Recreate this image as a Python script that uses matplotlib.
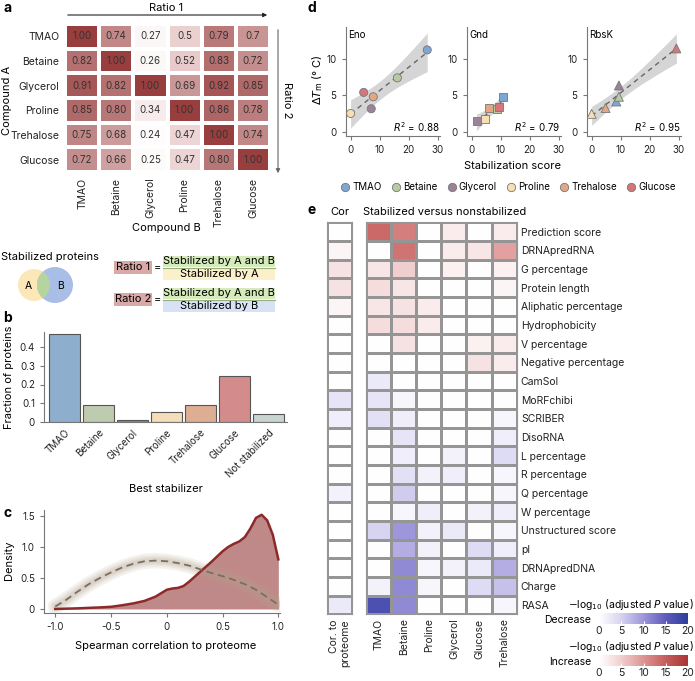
import numpy as np
import matplotlib.pyplot as plt
from matplotlib.colors import LinearSegmentedColormap
from matplotlib.patches import Circle, Rectangle
from matplotlib.lines import Line2D

W, H = 695, 681

# ---- a: overlap ratios between compounds (row = compound A, col = compound B)
compounds = ['TMAO', 'Betaine', 'Glycerol', 'Proline', 'Trehalose', 'Glucose']
ratio_values = [
    [1.00, 0.74, 0.27, 0.50, 0.79, 0.70],
    [0.82, 1.00, 0.26, 0.52, 0.83, 0.72],
    [0.91, 0.82, 1.00, 0.69, 0.92, 0.85],
    [0.85, 0.80, 0.34, 1.00, 0.86, 0.78],
    [0.75, 0.68, 0.24, 0.47, 1.00, 0.74],
    [0.72, 0.66, 0.25, 0.47, 0.80, 1.00],
]
ratio_labels = [
    ['1.00', '0.74', '0.27', '0.5', '0.79', '0.7'],
    ['0.82', '1.00', '0.26', '0.52', '0.83', '0.72'],
    ['0.91', '0.82', '1.00', '0.69', '0.92', '0.85'],
    ['0.85', '0.80', '0.34', '1.00', '0.86', '0.78'],
    ['0.75', '0.68', '0.24', '0.47', '1.00', '0.74'],
    ['0.72', '0.66', '0.25', '0.47', '0.80', '1.00'],
]

# ---- b: best stabilizer
best_stabilizer = ['TMAO', 'Betaine', 'Glycerol', 'Proline', 'Trehalose', 'Glucose', 'Not stabilized']
fraction_proteins = [0.47, 0.091, 0.012, 0.055, 0.093, 0.243, 0.042]
bar_colors = ['#8DAFCD', '#BFCBAF', '#9F7F8F', '#F4DDB8', '#DDAD94', '#D48B8B', '#C9D4D2']

# ---- c: density of spearman correlation
obs_x = [-1.0, -0.8, -0.6, -0.5, -0.4, -0.3, -0.2, -0.1, 0.0, 0.05, 0.1, 0.15, 0.2, 0.3,
         0.4, 0.5, 0.55, 0.6, 0.65, 0.7, 0.75, 0.8, 0.85, 0.9, 0.95, 1.0]
obs_density = [0.0, 0.01, 0.025, 0.035, 0.06, 0.09, 0.13, 0.2, 0.31, 0.33, 0.34, 0.37, 0.44, 0.6,
               0.76, 0.93, 1.0, 1.05, 1.09, 1.16, 1.3, 1.47, 1.52, 1.43, 1.2, 0.8]
null_x = [-1.0, -0.9, -0.8, -0.7, -0.6, -0.5, -0.4, -0.3, -0.2, -0.1, 0.0,
          0.1, 0.2, 0.3, 0.4, 0.5, 0.6, 0.7, 0.8, 0.9, 1.0]
null_density = [0.04, 0.15, 0.28, 0.40, 0.50, 0.59, 0.67, 0.73, 0.77, 0.78, 0.77,
                0.74, 0.70, 0.64, 0.58, 0.53, 0.47, 0.40, 0.31, 0.19, 0.07]

# ---- d: stabilization score vs delta Tm
d_colors = ['#7EA6D4', '#B7CBA3', '#9C8299', '#F8DFB2', '#E3A685', '#D5767A']
eno_score = [26.4, 16.1, 7.1, 0.0, 7.8, 4.5]
eno_dtm = [11.25, 7.4, 3.15, 2.5, 4.8, 5.4]
gnd_score = [10.9, 8.6, 1.7, 4.5, 6.1, 9.3]
gnd_dtm = [4.8, 3.1, 1.45, 1.75, 3.25, 3.35]
rbsk_score = [8.5, 9.4, 9.4, 0.0, 4.8, 29.2]
rbsk_dtm = [4.15, 4.8, 6.35, 2.45, 3.25, 11.45]
r2_labels = ['0.88', '0.79', '0.95']

# ---- e: signed -log10(adj P); positive = increase, negative = decrease
features = ['Prediction score', 'DRNApredRNA', 'G percentage', 'Protein length',
            'Aliphatic percentage', 'Hydrophobicity', 'V percentage', 'Negative percentage',
            'CamSol', 'MoRFchibi', 'SCRIBER', 'DisoRNA', 'L percentage', 'R percentage',
            'Q percentage', 'W percentage', 'Unstructured score', 'pI', 'DRNApredDNA',
            'Charge', 'RASA']
e_compounds = ['TMAO', 'Betaine', 'Proline', 'Glycerol', 'Glucose', 'Trehalose']
cor_to_proteome = [0, 1, 3, 3, 1, 0, 0, 0, 0, -3, -2, 0, 0, 0, -1.5, 0, 0, 0, 0, 0, -2.5]
signed_logp = [
    [14, 12, 0, 2, 0, 2],
    [0, 13, 0, 2, 2.5, 9],
    [2.5, 5, 0, 1.5, 0, 1.5],
    [3.5, 2.5, 0, 0, 0, 1],
    [2.5, 3, 2, 0, 0, 0],
    [3.5, 3.5, 2, 0, 0, 0],
    [0, 3, 0, 0, 1.5, 2],
    [0, 0, 0, 0, 3, 2],
    [-2.5, 0, 0, 0, 0, 0],
    [-3, -1, 0, 0, 0, 0],
    [-3.5, -2, 0, 0, 0, -1],
    [0, -3, 0, 0, 0, -2],
    [0, -2, 0, -1.5, 0, -4],
    [0, -3.5, -1.5, -2, 0, -1],
    [0, -5.5, 0, 0, 0, -1],
    [0, -1, -2, 0, -1.5, -2],
    [-5, -10, -1.5, -2.5, 0, -1],
    [0, -8, -1.5, 0, -4, -2],
    [0, -11, -1, -1.5, -2.5, -8],
    [-1.5, -11, -1, 0, -4, -6.5],
    [-17, -11, 0, 0, 0, -1],
]

plt.rcParams['font.family'] = ['Inter', 'DejaVu Sans']
plt.rcParams['font.size'] = 7
plt.rcParams['axes.edgecolor'] = '#777777'
plt.rcParams['xtick.color'] = '#777777'
plt.rcParams['ytick.color'] = '#777777'
plt.rcParams['xtick.labelcolor'] = '#222222'
plt.rcParams['ytick.labelcolor'] = '#222222'
plt.rcParams['xtick.major.size'] = 3
plt.rcParams['ytick.major.size'] = 3
plt.rcParams['axes.linewidth'] = 0.8

fig = plt.figure(figsize=(W / 100, H / 100), dpi=100)


def px_axes(x0, y0, x1, y1):
    return fig.add_axes([x0 / W, 1 - y1 / H, (x1 - x0) / W, (y1 - y0) / H])


# overlay in pixel coords for annotations
ov = fig.add_axes([0, 0, 1, 1])
ov.set_xlim(0, W)
ov.set_ylim(H, 0)
ov.axis('off')

def label(x, y, s, **kw):
    kw.setdefault('ha', 'center')
    kw.setdefault('va', 'center')
    ov.text(x, y, s, **kw)

for x, y, s in [(3, 8, 'a'), (3, 318, 'b'), (3, 513, 'c'), (308, 8, 'd'), (308, 210, 'e')]:
    label(x, y, s, ha='left', fontsize=10, fontweight='bold')

# ---------------- a
cmap_a = LinearSegmentedColormap.from_list(
    'a', [(0, '#FFFFFF'), (0.36, '#EBD0D0'), (0.68, '#C08585'), (1, '#983E3E')])
ax = px_axes(65, 24, 270, 172)
ax.pcolormesh(np.array(ratio_values), cmap=cmap_a, vmin=0.22, vmax=1.0,
              edgecolors='white', linewidth=1.5)
ax.set_xlim(0, 6)
ax.set_ylim(6, 0)
for i in range(6):
    for j in range(6):
        ax.text(j + 0.5, i + 0.5, ratio_labels[i][j], ha='center', va='center',
                fontsize=7, color='#333333')
ax.set_xticks(np.arange(6) + 0.5, compounds, rotation=90)
ax.set_yticks(np.arange(6) + 0.5, compounds)
ax.tick_params(length=0, pad=4, labelsize=7.5)
for s in ax.spines.values():
    s.set_visible(False)

ov.annotate('', xy=(270, 15), xytext=(65, 15),
            arrowprops=dict(arrowstyle='-|>', color='#222222', lw=0.8, mutation_scale=6))
label(166, 8, 'Ratio 1', fontsize=8)
ov.annotate('', xy=(278, 176), xytext=(278, 27),
            arrowprops=dict(arrowstyle='-|>', color='#666666', lw=0.8, mutation_scale=6))
label(287, 100, 'Ratio 2', fontsize=8, rotation=-90)
label(7, 100, 'Compound A', fontsize=8, rotation=90)
label(166, 228, 'Compound B', fontsize=8)

# venn
label(50, 257, 'Stabilized proteins', fontsize=8)
ca = Circle((34, 285), 16, facecolor='#FBE7B7', edgecolor='none')
cb = Circle((55, 285), 18, facecolor='#A9BEE6', edgecolor='none')
ov.add_patch(ca)
ov.add_patch(cb)
cab = Circle((34, 285), 16, facecolor='#B6D59E', edgecolor='none')
ov.add_patch(cab)
cab.set_clip_path(Circle((55, 285), 18, transform=ov.transData))
label(28, 286, 'A', fontsize=7.5)
label(61, 286, 'B', fontsize=7.5)

# ratio formulas
for yc, name, den, dcol in [(267.5, 'Ratio 1', 'Stabilized by A', '#FBF0C9'),
                            (299.5, 'Ratio 2', 'Stabilized by B', '#D8E2F5')]:
    ov.add_patch(Rectangle((114, yc - 6.5), 38, 13, facecolor='#D9A9A7', edgecolor='none'))
    label(133, yc, name, fontsize=8)
    label(157, yc, '=', fontsize=8)
    ov.add_patch(Rectangle((163, yc - 12), 112, 11.5, facecolor='#D6EBBB', edgecolor='none'))
    ov.add_patch(Rectangle((163, yc + 0.5), 112, 12, facecolor=dcol, edgecolor='none'))
    ov.plot([163, 275], [yc, yc], color='#9AAE84', lw=0.8)
    label(219, yc - 6, 'Stabilized by A and B', fontsize=8)
    label(219, yc + 6.5, den, fontsize=8)

# ---------------- b
ax = px_axes(44, 332, 287, 422)
ax.bar(range(len(best_stabilizer)), fraction_proteins, width=0.9, color=bar_colors,
       edgecolor='#555555', linewidth=0.8)
ax.set_xlim(-0.6, 6.55)
ax.set_ylim(0, 0.48)
ax.set_yticks([0, 0.1, 0.2, 0.3, 0.4], ['0', '0.1', '0.2', '0.3', '0.4'])
ax.set_xticks(range(len(best_stabilizer)))
ax.set_xticklabels(best_stabilizer, rotation=45, ha='right', rotation_mode='anchor')
ax.tick_params(axis='x', length=0, pad=4)
ax.spines[['top', 'right']].set_visible(False)
label(9, 377, 'Fraction of proteins', fontsize=8, rotation=90)
label(166, 489, 'Best stabilizer', fontsize=8)

# ---------------- c
ax = px_axes(44, 510, 280, 613)
ax.set_xlim(-1.101, 1.015)
ax.set_ylim(-0.065, 1.597)
for lw in [11, 8, 5.5, 3.5]:
    ax.plot(null_x, null_density, color='#B3A38C', lw=lw, alpha=0.14,
            solid_capstyle='round')
ax.fill_between(obs_x, obs_density, color='#9E4A4A', alpha=0.65, linewidth=0)
ax.plot(obs_x, obs_density, color='#8C2A2A', lw=1.8)
ax.plot(null_x, null_density, color='#7A6E60', lw=1.3, dashes=(4, 2.5))
ax.set_xticks([-1, -0.5, 0, 0.5, 1], ['-1.0', '-0.5', '0', '0.5', '1.0'])
ax.set_yticks([0, 0.5, 1.0, 1.5], ['0', '0.5', '1.0', '1.5'])
ax.spines[['top', 'right']].set_visible(False)
label(9, 560, 'Density', fontsize=8, rotation=90)
label(166, 646, 'Spearman correlation to proteome', fontsize=8)

# ---------------- d
def reg_band(x, y, grid):
    x = np.asarray(x)
    y = np.asarray(y)
    slope, icpt = np.polyfit(x, y, 1)
    n = len(x)
    resid = y - (slope * x + icpt)
    s = np.sqrt(np.sum(resid ** 2) / (n - 2))
    se = s * np.sqrt(1 / n + (grid - x.mean()) ** 2 / np.sum((x - x.mean()) ** 2))
    fit = slope * grid + icpt
    return fit, fit - 2.776 * se, fit + 2.776 * se


panels = [('Eno', eno_score, eno_dtm, 'o', 345.7),
          ('Gnd', gnd_score, gnd_dtm, 's', 466.7),
          ('RbsK', rbsk_score, rbsk_dtm, '^', 586.7)]
for k, (name, xs, ys, mk, x0) in enumerate(panels):
    ax = px_axes(x0, 27, x0 + 94.3, 136)
    ax.set_xlim(-1.7, 30.8)
    ax.set_ylim(-0.6, 14.4)
    grid = np.linspace(min(xs), max(xs), 60)
    fit, lo, hi = reg_band(xs, ys, grid)
    ax.fill_between(grid, lo, hi, color='#D5D5D5', linewidth=0, zorder=1)
    ax.plot(grid, fit, color='#666666', lw=1, dashes=(3.5, 3), zorder=2)
    ax.scatter(xs, ys, marker=mk, s=34 if mk != '^' else 42, c=d_colors,
               edgecolors='#777777', linewidths=0.6, zorder=3)
    ax.set_xticks([0, 10, 20, 30])
    ax.set_yticks([0, 5, 10])
    ax.spines[['top', 'right']].set_visible(False)
    ax.text(0.03, 0.97, name, transform=ax.transAxes, ha='left', va='top', fontsize=7)
    ax.text(0.99, 0.02, r'$R^2$ = ' + r2_labels[k], transform=ax.transAxes,
            ha='right', va='bottom', fontsize=7)

label(318, 80, r'$\Delta\mathit{T}_\mathrm{m}$ (° C)', fontsize=8, rotation=90)
label(513, 166, 'Stabilization score', fontsize=8)
handles = [Line2D([], [], marker='o', ls='none', markersize=6, markerfacecolor=c,
                  markeredgecolor='#777777', markeredgewidth=0.6) for c in d_colors]
fig.legend(handles, compounds, loc='center', bbox_to_anchor=(508 / W, 1 - 187 / H),
           ncol=6, frameon=False, handletextpad=0.2, columnspacing=1.0,
           handlelength=1.0, fontsize=7)

# ---------------- e
div_cmap = LinearSegmentedColormap.from_list('div', [
    (0, '#2F3E9E'), (0.125, '#5F5CBD'), (0.25, '#9D96DA'), (0.375, '#D6D3F1'),
    (0.5, '#FFFFFF'),
    (0.625, '#F1CFCF'), (0.75, '#DE9494'), (0.875, '#C65E5E'), (1, '#AC3434')])
nrow = len(features)
top, bottom = 222.3, 614.3

ax = px_axes(327.3, top, 352.3, bottom)
ax.pcolormesh(np.array(cor_to_proteome)[:, None], cmap=div_cmap, vmin=-20, vmax=20,
              edgecolors='#959595', linewidth=0.8)
ax.set_xlim(0, 1)
ax.set_ylim(nrow, 0)
ax.set_yticks([])
ax.set_xticks([0.5], ['Cor. to\nproteome'], rotation=90, multialignment='right')
ax.tick_params(length=0, pad=4, labelsize=7.5)
for s in ax.spines.values():
    s.set_color('#959595')

ax = px_axes(366, top, 516.7, bottom)
ax.pcolormesh(np.array(signed_logp), cmap=div_cmap, vmin=-20, vmax=20,
              edgecolors='#959595', linewidth=0.8)
ax.set_xlim(0, len(e_compounds))
ax.set_ylim(nrow, 0)
ax.set_xticks(np.arange(len(e_compounds)) + 0.5, e_compounds, rotation=90)
ax.set_yticks(np.arange(nrow) + 0.5, features)
ax.yaxis.tick_right()
ax.tick_params(length=0, pad=3, labelsize=7.5)
for s in ax.spines.values():
    s.set_color('#959595')

label(340, 212, 'Cor', fontsize=8)
label(363, 212, 'Stabilized versus nonstabilized', fontsize=8, ha='left')

blue_cmap = LinearSegmentedColormap.from_list('blue', [
    (0, '#FFFFFF'), (0.25, '#D6D3F1'), (0.5, '#9D96DA'), (0.75, '#5F5CBD'), (1, '#2F3E9E')])
red_cmap = LinearSegmentedColormap.from_list('red', [
    (0, '#FFFFFF'), (0.25, '#F1CFCF'), (0.5, '#DE9494'), (0.75, '#C65E5E'), (1, '#AC3434')])
grad = np.linspace(0, 20, 200)[None, :]
for y0, cm, name in [(613, blue_cmap, 'Decrease'), (655, red_cmap, 'Increase')]:
    cax = px_axes(599, y0, 688, y0 + 10.5)
    cax.imshow(grad, aspect='auto', cmap=cm, extent=(0, 20, 0, 1), vmin=0, vmax=20)
    cax.set_yticks([])
    cax.set_xticks([0, 5, 10, 15, 20])
    cax.tick_params(axis='x', length=2, direction='in', color='white', pad=1.5,
                    labelsize=7.5)
    for s in cax.spines.values():
        s.set_visible(False)
    label(694, y0 - 8, r'$-$log$_{10}$ (adjusted $P$ value)', fontsize=7.5, ha='right')
    label(591, y0 + 7, name, fontsize=7.5, ha='right')

fig.savefig('out.png', dpi=100)
